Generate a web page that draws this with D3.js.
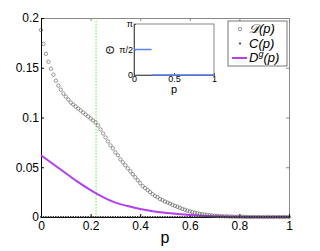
<!DOCTYPE html>
<html>
<head>
<meta charset="utf-8">
<script src="https://cdn.jsdelivr.net/npm/d3@7"></script>
<style>
  body { margin: 0; background: #fff; }
  text { font-family: "Liberation Sans", Arial, sans-serif; }
</style>
</head>
<body>
<div id="chart"></div>
<script>
// p grid (0..1 in steps of 0.01) and curves
const pValues = d3.range(0, 101).map(i => i / 100);
const dValues = [
  0.188, 0.174, 0.164, 0.156, 0.149, 0.143, 0.137, 0.132, 0.128, 0.124,
  0.121, 0.118, 0.115, 0.113, 0.111, 0.109, 0.107, 0.105, 0.103, 0.101,
  0.099, 0.097, 0.095, 0.092, 0.088, 0.084, 0.080, 0.076, 0.072, 0.069,
  0.065, 0.062, 0.058, 0.055, 0.052, 0.049, 0.046, 0.043, 0.040, 0.037,
  0.034, 0.031, 0.029, 0.027, 0.025, 0.023, 0.021, 0.020, 0.018, 0.017,
  0.0155, 0.0145, 0.0135, 0.0123, 0.0112, 0.0102, 0.0092, 0.0082, 0.0073, 0.0064,
  0.0056, 0.0049, 0.0043, 0.0037, 0.0032, 0.0028, 0.0024, 0.0021, 0.0018, 0.0015,
  0.0013, 0.0011, 0.0009, 0.0008, 0.0007, 0.0006, 0.0005, 0.0004, 0.0003, 0.0003,
  0.0002, 0.0002, 0.0001, 0.0001, 0, 0, 0, 0, 0, 0,
  0, 0, 0, 0, 0, 0, 0, 0, 0, 0, 0
];
const cValues = pValues.map(() => 0);

const pGeo = [0, 0.05, 0.1, 0.15, 0.2, 0.25, 0.3, 0.35, 0.4, 0.45, 0.5,
  0.55, 0.6, 0.65, 0.7, 0.75, 0.8, 0.85, 0.9, 0.95, 1];
const dgValues = [0.062, 0.053, 0.044, 0.035, 0.027, 0.020, 0.0145, 0.011, 0.008, 0.0058, 0.0042,
  0.003, 0.002, 0.0013, 0.0008, 0.0004, 0.0002, 0.0001, 0, 0, 0];

const pCritical = 0.22;
// inset: Theta vs p, two flat pieces
const thetaSegments = [
  { p: [0, 0.22], theta: Math.PI / 2 },
  { p: [0.22, 1], theta: 0 }
];

const xTicks = [0, 0.2, 0.4, 0.6, 0.8, 1];
const yTicks = [0, 0.05, 0.1, 0.15, 0.2];

const width = 320;
const height = 251;
const margin = { top: 18, right: 31, bottom: 34, left: 41 };

const svg = d3.select("#chart")
  .append("svg")
  .attr("width", width)
  .attr("height", height);

const x = d3.scaleLinear()
  .domain([0, 1])
  .range([margin.left, width - margin.right]);

const y = d3.scaleLinear()
  .domain([0, 0.2])
  .range([height - margin.bottom, margin.top]);

// frame: top and right in gray
svg.append("g")
  .attr("transform", `translate(0, ${margin.top})`)
  .call(d3.axisTop(x).tickValues(xTicks).tickSize(-3).tickFormat(""))
  .call(g => g.selectAll("path, line").attr("stroke", "#888"));
svg.append("g")
  .attr("transform", `translate(${width - margin.right}, 0)`)
  .call(d3.axisRight(y).tickValues(yTicks).tickSize(-3).tickFormat(""))
  .call(g => g.selectAll("path, line").attr("stroke", "#888"));

// critical p line
svg.append("line")
  .attr("x1", x(pCritical) + 0.5).attr("x2", x(pCritical) + 0.5)
  .attr("y1", y(0.2)).attr("y2", y(0))
  .attr("stroke", "#6ee03c")
  .attr("stroke-width", 1)
  .attr("stroke-dasharray", "1.5,1.5");

const xAxis = svg.append("g")
  .attr("transform", `translate(0, ${height - margin.bottom})`)
  .call(d3.axisBottom(x).tickValues(xTicks).tickSize(-3).tickPadding(4)
    .tickFormat(d => d3.format("")(d)));
const yAxis = svg.append("g")
  .attr("transform", `translate(${margin.left}, 0)`)
  .call(d3.axisLeft(y).tickValues(yTicks).tickSize(-3).tickPadding(2)
    .tickFormat(d => d3.format("")(d)));
[xAxis, yAxis].forEach(g => {
  g.selectAll("text").attr("font-size", 12).attr("fill", "#000");
  g.selectAll("path, line").attr("stroke", "#000");
});

svg.append("text")
  .attr("x", x(0.5))
  .attr("y", 243)
  .attr("text-anchor", "middle")
  .attr("font-size", 16)
  .text("p");

// D^g line
const line = d3.line()
  .x((d, i) => x(pGeo[i]))
  .y(d => y(d))
  .curve(d3.curveMonotoneX);

svg.append("path")
  .datum(dgValues)
  .attr("fill", "none")
  .attr("stroke", "#b23ff0")
  .attr("stroke-width", 2)
  .attr("d", line);

// C(p) dots
svg.append("g")
  .selectAll("circle")
  .data(cValues)
  .join("circle")
  .attr("cx", (d, i) => x(pValues[i]))
  .attr("cy", d => y(d))
  .attr("r", 0.9)
  .attr("fill", "#222");

// D(p) circles
svg.append("g")
  .selectAll("circle")
  .data(dValues)
  .join("circle")
  .attr("cx", (d, i) => x(pValues[i]))
  .attr("cy", d => y(d))
  .attr("r", 1.7)
  .attr("fill", "none")
  .attr("stroke", "#555")
  .attr("stroke-width", 0.6);

// inset
const ix = d3.scaleLinear().domain([0, 1]).range([134, 214]);
const iy = d3.scaleLinear().domain([0, Math.PI]).range([75, 24]);

svg.append("rect")
  .attr("x", 134).attr("y", 24)
  .attr("width", 80).attr("height", 51)
  .attr("fill", "#fff")
  .attr("stroke", "#888")
  .attr("stroke-width", 1);

const ixAxis = svg.append("g")
  .attr("transform", "translate(0, 75)")
  .call(d3.axisBottom(ix).tickValues([0, 0.5, 1]).tickSize(-2).tickPadding(1)
    .tickFormat(d => d3.format("")(d)));
const iyAxis = svg.append("g")
  .attr("transform", "translate(134, 0)")
  .call(d3.axisLeft(iy).tickValues([0, Math.PI / 2, Math.PI]).tickSize(-2).tickPadding(1)
    .tickFormat((d, i) => ["0", "π/2", "π"][i]));
[ixAxis, iyAxis].forEach(g => {
  g.selectAll("text").attr("font-size", 9).attr("fill", "#000");
  g.selectAll("path, line").attr("stroke", "#555");
});

svg.append("g")
  .selectAll("line")
  .data(thetaSegments)
  .join("line")
  .attr("x1", d => ix(d.p[0]))
  .attr("x2", d => ix(d.p[1]))
  .attr("y1", d => iy(d.theta))
  .attr("y2", d => iy(d.theta))
  .attr("stroke", "#5f80f0")
  .attr("stroke-width", 1.5);

svg.append("text")
  .attr("x", ix(0.5))
  .attr("y", 93)
  .attr("text-anchor", "middle")
  .attr("font-size", 11)
  .text("p");

svg.append("text")
  .attr("transform", "translate(114, 50) rotate(-90)")
  .attr("text-anchor", "middle")
  .attr("font-size", 11)
  .text("Θ");

// legend
const legend = svg.append("g");
legend.append("rect")
  .attr("x", 228).attr("y", 21)
  .attr("width", 59).attr("height", 45)
  .attr("fill", "#fff")
  .attr("stroke", "#555")
  .attr("stroke-width", 0.8);

const legendItems = [
  { label: "𝒟", sup: "", type: "circle" },
  { label: "C", sup: "", type: "dot" },
  { label: "D", sup: "g", type: "line" }
];

legendItems.forEach((d, i) => {
  const cy = 29 + i * 14.5;
  if (d.type === "circle") {
    legend.append("circle").attr("cx", 240).attr("cy", cy).attr("r", 1.7)
      .attr("fill", "none").attr("stroke", "#555").attr("stroke-width", 0.6);
  } else if (d.type === "dot") {
    legend.append("circle").attr("cx", 240).attr("cy", cy).attr("r", 1)
      .attr("fill", "#222");
  } else {
    legend.append("line").attr("x1", 232).attr("x2", 247)
      .attr("y1", cy).attr("y2", cy)
      .attr("stroke", "#b23ff0").attr("stroke-width", 2);
  }
  const t = legend.append("text")
    .attr("x", 249)
    .attr("y", cy + 4)
    .attr("font-family", "'Liberation Serif', 'DejaVu Serif', serif")
    .attr("font-size", 13)
    .attr("font-style", "italic");
  t.append("tspan").text(d.label);
  if (d.sup) {
    t.append("tspan").attr("dy", -5).attr("font-size", 9).text(d.sup);
    t.append("tspan").attr("dy", 5).text("(p)");
  } else {
    t.append("tspan").text("(p)");
  }
});
</script>
</body>
</html>
